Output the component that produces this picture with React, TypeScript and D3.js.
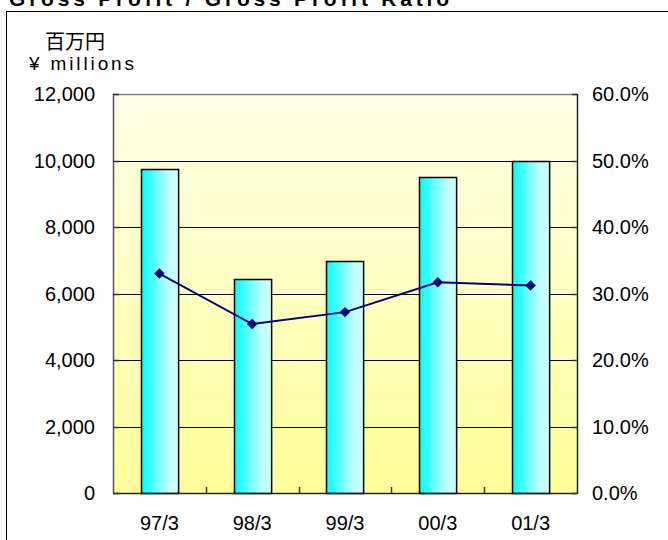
import { useEffect, useRef } from "react";
import * as d3 from "d3";

const periods = ["97/3", "98/3", "99/3", "00/3", "01/3"];
const grossProfit = [9740, 6430, 6970, 9510, 9990]; // 百万円
const grossProfitRatio = [0.33, 0.254, 0.272, 0.317, 0.312];
const leftTicks = [0, 2000, 4000, 6000, 8000, 10000, 12000];
const rightTicks = [0, 0.1, 0.2, 0.3, 0.4, 0.5, 0.6];

const W = 668;
const H = 540;
const SANS = "'Liberation Sans', Arial, sans-serif";

export default function App() {
  const ref = useRef<SVGSVGElement | null>(null);

  useEffect(() => {
    const svg = d3.select(ref.current);
    svg.selectAll("*").remove();

    const left = 113;
    const right = 577;
    const top = 94;
    const bottom = 493;

    const x = d3
      .scaleBand<string>()
      .domain(periods)
      .range([left, right])
      .paddingInner(0.6)
      .paddingOuter(0.3);
    const y = d3.scaleLinear().domain([0, 12000]).range([bottom, top]);
    const y2 = d3.scaleLinear().domain([0, 0.6]).range([bottom, top]);

    const defs = svg.append("defs");
    const bg = defs
      .append("linearGradient")
      .attr("id", "bg")
      .attr("x1", 0)
      .attr("y1", 0)
      .attr("x2", 0)
      .attr("y2", 1);
    bg.append("stop").attr("offset", "0%").attr("stop-color", "#ffffe8");
    bg.append("stop").attr("offset", "100%").attr("stop-color", "#ffff99");

    const barGrad = defs
      .append("linearGradient")
      .attr("id", "bar")
      .attr("x1", 0)
      .attr("y1", 0)
      .attr("x2", 1)
      .attr("y2", 0);
    barGrad.append("stop").attr("offset", "0%").attr("stop-color", "#00ffff");
    barGrad.append("stop").attr("offset", "75%").attr("stop-color", "#c4ffff");
    barGrad.append("stop").attr("offset", "100%").attr("stop-color", "#ccffff");

    // title (cut off at the top edge)
    svg
      .append("text")
      .attr("x", 9)
      .attr("y", 6)
      .attr("font-family", SANS)
      .attr("font-weight", 700)
      .attr("font-size", 21)
      .attr("textLength", 440)
      .attr("lengthAdjust", "spacing")
      .attr("fill", "#000")
      .text("Gross Profit / Gross Profit Ratio");

    // outer frame
    svg
      .append("rect")
      .attr("x", 6.5)
      .attr("y", 11.5)
      .attr("width", 700)
      .attr("height", 600)
      .attr("fill", "none")
      .attr("stroke", "#000")
      .attr("stroke-width", 1);

    // unit labels
    svg
      .append("text")
      .attr("x", 45)
      .attr("y", 49)
      .attr("font-family", "'Noto Sans CJK JP', sans-serif")
      .attr("font-size", 20)
      .attr("fill", "#000")
      .text("百万円");
    svg
      .append("text")
      .attr("x", 29)
      .attr("y", 70)
      .attr("font-family", SANS)
      .attr("font-size", 19)
      .attr("textLength", 105)
      .attr("lengthAdjust", "spacing")
      .attr("fill", "#000")
      .text("¥ millions");

    // plot background
    svg
      .append("rect")
      .attr("x", left)
      .attr("y", top)
      .attr("width", right - left)
      .attr("height", bottom - top)
      .attr("fill", "url(#bg)");

    // gridlines
    svg
      .append("g")
      .selectAll("line")
      .data(leftTicks.filter((d) => d > 0 && d < 12000))
      .join("line")
      .attr("x1", left)
      .attr("x2", right)
      .attr("y1", (d) => Math.round(y(d)) + 0.5)
      .attr("y2", (d) => Math.round(y(d)) + 0.5)
      .attr("stroke", "#000")
      .attr("stroke-width", 1);

    // top border
    svg
      .append("line")
      .attr("x1", left)
      .attr("x2", right)
      .attr("y1", top + 0.5)
      .attr("y2", top + 0.5)
      .attr("stroke", "#808080")
      .attr("stroke-width", 1.5);

    // bars
    svg
      .append("g")
      .selectAll("rect")
      .data(grossProfit)
      .join("rect")
      .attr("x", (_, i) => Math.round(x(periods[i])!) + 0.5)
      .attr("y", (d) => Math.round(y(d)) + 0.5)
      .attr("width", x.bandwidth())
      .attr("height", (d) => bottom - Math.round(y(d)))
      .attr("fill", "url(#bar)")
      .attr("stroke", "#000")
      .attr("stroke-width", 1.5);

    // axis lines
    svg
      .append("line")
      .attr("x1", left + 0.5)
      .attr("x2", left + 0.5)
      .attr("y1", top)
      .attr("y2", bottom)
      .attr("stroke", "#555")
      .attr("stroke-width", 1.5);
    svg
      .append("line")
      .attr("x1", right + 0.5)
      .attr("x2", right + 0.5)
      .attr("y1", top)
      .attr("y2", bottom + 1)
      .attr("stroke", "#222")
      .attr("stroke-width", 1.5);
    svg
      .append("line")
      .attr("x1", left)
      .attr("x2", right + 1)
      .attr("y1", bottom + 0.5)
      .attr("y2", bottom + 0.5)
      .attr("stroke", "#222")
      .attr("stroke-width", 1.5);

    // inner ticks on left and right axes
    const tg = svg.append("g").attr("stroke", "#333").attr("stroke-width", 1.5);
    leftTicks.forEach((d) => {
      const yy = Math.round(y(d)) + 0.5;
      tg.append("line").attr("x1", left).attr("x2", left + 6).attr("y1", yy).attr("y2", yy);
    });
    rightTicks.forEach((d) => {
      const yy = Math.round(y2(d)) + 0.5;
      tg.append("line").attr("x1", right - 5).attr("x2", right).attr("y1", yy).attr("y2", yy);
    });
    // category boundary ticks
    periods.slice(1).forEach((p) => {
      const xx = Math.round(x(p)! - (x.step() - x.bandwidth()) / 2) + 0.5;
      tg.append("line").attr("x1", xx).attr("x2", xx).attr("y1", bottom - 6).attr("y2", bottom);
    });

    // left tick labels
    svg
      .append("g")
      .selectAll("text")
      .data(leftTicks)
      .join("text")
      .attr("x", 95)
      .attr("y", (d) => y(d) + 7)
      .attr("text-anchor", "end")
      .attr("font-family", SANS)
      .attr("font-size", 20)
      .attr("fill", "#000")
      .text((d) => d3.format(",")(d));

    // right tick labels
    svg
      .append("g")
      .selectAll("text")
      .data(rightTicks)
      .join("text")
      .attr("x", 592)
      .attr("y", (d) => y2(d) + 7)
      .attr("font-family", SANS)
      .attr("font-size", 20)
      .attr("fill", "#000")
      .text((d) => d3.format(".1%")(d));

    // category labels
    svg
      .append("g")
      .selectAll("text")
      .data(periods)
      .join("text")
      .attr("x", (d) => x(d)! + x.bandwidth() / 2)
      .attr("y", 530)
      .attr("text-anchor", "middle")
      .attr("font-family", SANS)
      .attr("font-size", 20)
      .attr("fill", "#000")
      .text((d) => d);

    // ratio line
    const cx = (i: number) => x(periods[i])! + x.bandwidth() / 2;
    const line = d3
      .line<number>()
      .x((_, i) => cx(i))
      .y((d) => y2(d));
    svg
      .append("path")
      .attr("d", line(grossProfitRatio) as string)
      .attr("fill", "none")
      .attr("stroke", "#000080")
      .attr("stroke-width", 2);

    const diamond = d3.symbol().type(d3.symbolDiamond2).size(70);
    svg
      .append("g")
      .selectAll("path")
      .data(grossProfitRatio)
      .join("path")
      .attr("transform", (d, i) => `translate(${cx(i)},${y2(d)})`)
      .attr("d", diamond() as string)
      .attr("fill", "#000080");
  }, []);

  return (
    <svg
      ref={ref}
      width={W}
      height={H}
      style={{ position: "absolute", left: 0, top: 0, background: "#fff" }}
    />
  );
}
